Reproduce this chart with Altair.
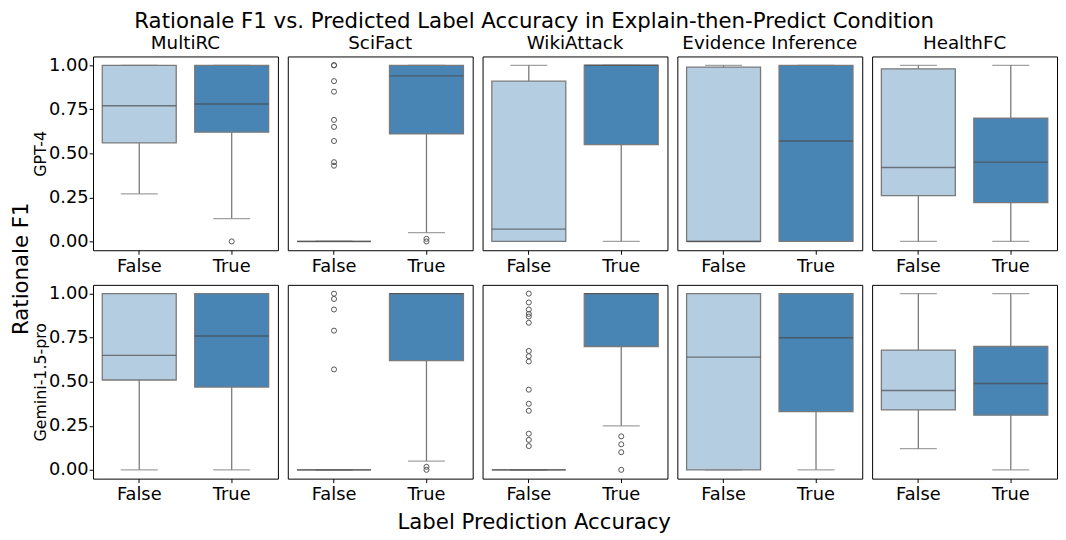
import altair as alt
import pandas as pd

# ---------------- data ----------------
datasets = ["MultiRC", "SciFact", "WikiAttack", "Evidence Inference", "HealthFC"]
models = ["GPT-4", "Gemini-1.5-pro"]
classes = ["False", "True"]

# GPT-4, predicted label wrong (False)
gpt4_false_lo = [0.27, 0.0, 0.0, 0.0, 0.0]
gpt4_false_q1 = [0.56, 0.0, 0.0, 0.0, 0.26]
gpt4_false_med = [0.77, 0.0, 0.07, 0.0, 0.42]
gpt4_false_q3 = [1.0, 0.0, 0.91, 0.99, 0.98]
gpt4_false_hi = [1.0, 0.0, 1.0, 1.0, 1.0]
# GPT-4, predicted label correct (True)
gpt4_true_lo = [0.13, 0.05, 0.0, 0.0, 0.0]
gpt4_true_q1 = [0.62, 0.61, 0.55, 0.0, 0.22]
gpt4_true_med = [0.78, 0.94, 1.0, 0.57, 0.45]
gpt4_true_q3 = [1.0, 1.0, 1.0, 1.0, 0.70]
gpt4_true_hi = [1.0, 1.0, 1.0, 1.0, 1.0]

# Gemini-1.5-pro, False
gem_false_lo = [0.0, 0.0, 0.0, 0.0, 0.12]
gem_false_q1 = [0.51, 0.0, 0.0, 0.0, 0.34]
gem_false_med = [0.65, 0.0, 0.0, 0.64, 0.45]
gem_false_q3 = [1.0, 0.0, 0.0, 1.0, 0.68]
gem_false_hi = [1.0, 0.0, 0.0, 1.0, 1.0]
# Gemini-1.5-pro, True
gem_true_lo = [0.0, 0.05, 0.25, 0.0, 0.0]
gem_true_q1 = [0.47, 0.62, 0.70, 0.33, 0.31]
gem_true_med = [0.76, 1.0, 1.0, 0.75, 0.49]
gem_true_q3 = [1.0, 1.0, 1.0, 1.0, 0.70]
gem_true_hi = [1.0, 1.0, 1.0, 1.0, 1.0]

# outliers: (model, dataset, class) -> values
out_gpt4_multirc_true = [0.0]
out_gpt4_scifact_false = [1.0, 1.0, 0.91, 0.85, 0.69, 0.65, 0.57, 0.45, 0.43]
out_gpt4_scifact_true = [0.015, 0.0]
out_gem_scifact_false = [1.0, 0.97, 0.91, 0.79, 0.57]
out_gem_scifact_true = [0.017, 0.0]
out_gem_wiki_false = [1.0, 0.95, 0.91, 0.885, 0.87, 0.835, 0.675, 0.645,
                      0.615, 0.455, 0.375, 0.335, 0.205, 0.17, 0.135]
out_gem_wiki_true = [0.19, 0.145, 0.10, 0.0]

# ---------------- build tables ----------------
stats = {
    ("GPT-4", "False"): (gpt4_false_lo, gpt4_false_q1, gpt4_false_med, gpt4_false_q3, gpt4_false_hi),
    ("GPT-4", "True"): (gpt4_true_lo, gpt4_true_q1, gpt4_true_med, gpt4_true_q3, gpt4_true_hi),
    ("Gemini-1.5-pro", "False"): (gem_false_lo, gem_false_q1, gem_false_med, gem_false_q3, gem_false_hi),
    ("Gemini-1.5-pro", "True"): (gem_true_lo, gem_true_q1, gem_true_med, gem_true_q3, gem_true_hi),
}
rows = []
for (m, cl), (lo, q1, med, q3, hi) in stats.items():
    for i, d in enumerate(datasets):
        rows.append(dict(model=m, dataset=d, cat=cl, lo=lo[i], q1=q1[i],
                         med=med[i], q3=q3[i], hi=hi[i]))
boxes = pd.DataFrame(rows)

outlier_sets = [
    ("GPT-4", "MultiRC", "True", out_gpt4_multirc_true),
    ("GPT-4", "SciFact", "False", out_gpt4_scifact_false),
    ("GPT-4", "SciFact", "True", out_gpt4_scifact_true),
    ("Gemini-1.5-pro", "SciFact", "False", out_gem_scifact_false),
    ("Gemini-1.5-pro", "SciFact", "True", out_gem_scifact_true),
    ("Gemini-1.5-pro", "WikiAttack", "False", out_gem_wiki_false),
    ("Gemini-1.5-pro", "WikiAttack", "True", out_gem_wiki_true),
]
orows = []
for m, d, cl, vals in outlier_sets:
    for v in vals:
        orows.append(dict(model=m, dataset=d, cat=cl, value=v))
outliers = pd.DataFrame(orows)

# ---------------- styling ----------------
FONT = "DejaVu Sans"
W, H = 187, 196
BAND = W / 2
LIGHT, DARK = "#b4cde1", "#4884b4"
EDGE, MED = "#7a7a7a", "#4a4a4a"


def panel(r, c):
    m, d = models[r], datasets[c]
    bdf = boxes[(boxes.model == m) & (boxes.dataset == d)]
    odf = outliers[(outliers.model == m) & (outliers.dataset == d)]

    xenc = alt.X("cat:N",
                 scale=alt.Scale(domain=classes, paddingInner=0, paddingOuter=0),
                 axis=alt.Axis(title=None, labelAngle=0, tickSize=4, labelPadding=3,
                               domain=False, labelFontSize=18))
    yscale = alt.Scale(domain=[-0.05, 1.05], nice=False, zero=False)
    if c == 0:
        yaxis = alt.Axis(values=[0, 0.25, 0.5, 0.75, 1.0], format=".2f", tickSize=4,
                         labelPadding=1, domain=False, grid=False, labelFontSize=18,
                         titleFontSize=16, titleFontWeight="normal", titlePadding=0)
    else:
        yaxis = None

    def Y(field):
        return alt.Y(field, scale=yscale, axis=yaxis, title=m)

    base = alt.Chart(bdf)
    w_lo = base.mark_rule(color=EDGE, strokeWidth=1.3).encode(x=xenc, y=Y("lo:Q"), y2="q1:Q")
    w_hi = base.mark_rule(color=EDGE, strokeWidth=1.3).encode(x=xenc, y=Y("q3:Q"), y2="hi:Q")
    cap_lo = base.mark_tick(color=EDGE, size=BAND * 0.4, thickness=1.3).encode(x=xenc, y=Y("lo:Q"))
    cap_hi = base.mark_tick(color=EDGE, size=BAND * 0.4, thickness=1.3).encode(x=xenc, y=Y("hi:Q"))
    box = base.mark_bar(width=alt.RelativeBandSize(0.8), stroke=EDGE, strokeWidth=1.3).encode(
        x=xenc, y=Y("q1:Q"), y2="q3:Q",
        color=alt.Color("cat:N", scale=alt.Scale(domain=classes, range=[LIGHT, DARK]), legend=None))
    med = base.mark_tick(color=MED, size=BAND * 0.8, thickness=1.4).encode(x=xenc, y=Y("med:Q"))
    layers = [w_lo, w_hi, cap_lo, cap_hi, box, med]
    if len(odf):
        pts = alt.Chart(odf).mark_point(filled=False, size=26, color="#555555", strokeWidth=1,
                                        opacity=1).encode(x=xenc, y=Y("value:Q"))
        layers.append(pts)
    ch = alt.layer(*layers).properties(width=W, height=H)
    if r == 0:
        ch = ch.properties(title=alt.TitleParams(d, fontSize=18.5, fontWeight="normal",
                                                 font=FONT, offset=4))
    return ch


row_charts = [alt.hconcat(*[panel(r, c) for c in range(5)], spacing=8) for r in range(2)]
grid = alt.vconcat(*row_charts, spacing=8).properties(
    title=alt.TitleParams("Rationale F1", orient="left", fontSize=21.5, fontWeight="normal",
                          font=FONT, offset=0))
mid = alt.hconcat(grid).properties(
    title=alt.TitleParams("Label Prediction Accuracy", orient="bottom", fontSize=21.5,
                          fontWeight="normal", font=FONT, offset=8))
chart = alt.vconcat(mid).properties(
    padding={"left": 2, "top": 0, "right": 0, "bottom": 0},
    title=alt.TitleParams("Rationale F1 vs. Predicted Label Accuracy in Explain-then-Predict Condition",
                          fontSize=21.5, fontWeight="normal", font=FONT, offset=1, anchor="middle")
).configure_view(stroke="black", strokeWidth=1).configure_axis(
    labelFont=FONT, titleFont=FONT, labelColor="black", titleColor="black", tickColor="black"
).configure_title(font=FONT, color="black", anchor="middle").configure_concat(spacing=0)

chart.save("out.html", embed_options={"renderer": "svg", "actions": False})
